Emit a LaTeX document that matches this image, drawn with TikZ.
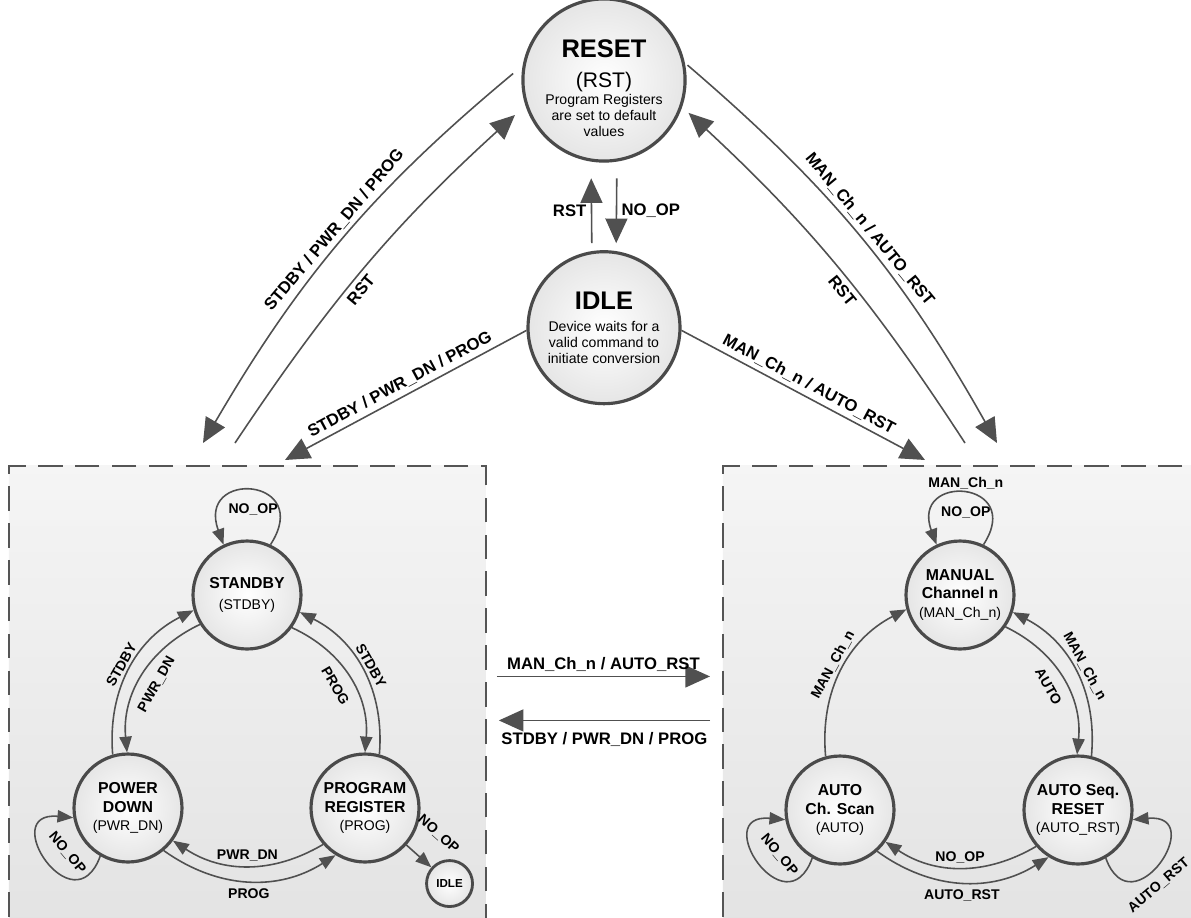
\documentclass[tikz,border=0pt]{standalone}
\usepackage{fontspec}
\setmainfont{Liberation Sans}
\usetikzlibrary{arrows.meta,positioning,calc,shadows}

\definecolor{rimgray}{HTML}{4A4A4A}
\definecolor{edgegray}{HTML}{505050}
\definecolor{boxgray}{HTML}{555555}

\newcommand{\subtxt}[1]{{\normalfont\fontsize{8}{9}\selectfont #1}}
\newcommand{\rsttxt}[1]{{\normalfont\fontsize{12}{13}\selectfont #1}}

\tikzset{
  state/.style={circle, draw=rimgray, line width=1.8pt, minimum size=2.16cm, inner sep=0pt,
    align=center, inner color=white, outer color=black!10,
    drop shadow={shadow xshift=0.7pt, shadow yshift=-0.7pt, opacity=0.25},
    font=\fontsize{9}{10.5}\selectfont\bfseries},
  main state/.style={state, minimum size=3.04cm, font=\fontsize{14.5}{9}\selectfont\bfseries},
  tiny state/.style={state, minimum size=0.92cm, line width=1.6pt, font=\fontsize{6.6}{8}\selectfont\bfseries},
  group/.style={draw=boxgray, line width=1.1pt, dash pattern=on 14pt off 7pt,
    top color=black!4, bottom color=black!11, anchor=north west,
    minimum width=9.54cm, minimum height=9.3cm},
  arrow/.style={-{Triangle[length=9pt, width=7pt]}, draw=edgegray, line width=0.9pt},
  big arrow/.style={-{Triangle[length=14pt, width=12.5pt]}, draw=edgegray, line width=0.9pt},
  lbl/.style={font=\fontsize{8}{9}\selectfont\bfseries, inner sep=2pt},
  big lbl/.style={font=\fontsize{9.5}{11}\selectfont\bfseries, inner sep=2.5pt},
}

\begin{document}
\begin{tikzpicture}[x=0.02cm, y=-0.02cm]
    \fill[white] (0,0) rectangle (1191,917);
    \useasboundingbox (0,0) rectangle (1191,917);
    \clip (0,0) rectangle (1191,917);

    \node[group] (lgrp) at (8,465) {};
    \node[group] (rgrp) at (722,465) {};

    \node[main state] (reset) at (604,80) {\mbox{}\\[8pt]RESET\\[8.5pt]\rsttxt{(RST)}\\[0.5pt]\subtxt{Program Registers}\\\subtxt{are set to default}\\\subtxt{values}};
    \node[main state, below=1.75cm of reset] (idle) {IDLE\\[3.5pt]\subtxt{Device waits for a}\\\subtxt{valid command to}\\\subtxt{initiate conversion}};

    \node[state] (stdby) at (247,595) {STANDBY\\[1.5pt]\subtxt{(STDBY)}};
    \node[state] (pwrdn) at (128,808) {POWER\\DOWN\\\subtxt{(PWR\_DN)}};
    \node[state] (prog) at (365,808) {PROGRAM\\REGISTER\\\subtxt{(PROG)}};
    \node[tiny state, below right=0.38cm and 0.56cm of prog] (idlesm) {IDLE};

    \node[state] (man) at (960,595) {MANUAL\\Channel n\\\subtxt{(MAN\_Ch\_n)}};
    \node[state] (autoscan) at (840,810) {AUTO\\Ch. Scan\\\subtxt{(AUTO)}};
    \node[state] (arst) at (1078,810) {AUTO Seq.\\RESET\\\subtxt{(AUTO\_RST)}};

    \coordinate (lA) at ($(lgrp.north west)+(195,-22)$);
    \coordinate (lB) at ($(lgrp.north west)+(227,-22)$);
    \coordinate (lC) at ($(lgrp.north west)+(277,-5)$);
    \coordinate (rD) at ($(rgrp.north west)+(275,-22)$);
    \coordinate (rE) at ($(rgrp.north west)+(243,-22)$);
    \coordinate (rF) at ($(rgrp.north west)+(203,-5)$);

    \draw[big arrow, shorten <=4.5pt, shorten >=9.5pt] (idle.99) -- node[big lbl, pos=0.45, left] {RST} (reset.261);
    \draw[big arrow, shorten <=9.5pt, shorten >=4.5pt] (reset.279) -- node[big lbl, pos=0.55, right] {NO\_OP} (idle.81);

    \draw[big arrow, shorten <=7pt] (reset.170) to[bend right=10] node[big lbl, midway, sloped, above] {STDBY / PWR\_DN / PROG} (lA);
    \draw[big arrow, shorten >=8pt] (lB) to[bend left=7] node[big lbl, pos=0.44, sloped, below] {RST} (reset.198);
    \draw[big arrow] (idle.182) -- node[big lbl, midway, sloped, above] {STDBY / PWR\_DN / PROG} (lC);
    \draw[big arrow, shorten <=2pt] (reset.12) to[bend left=10] node[big lbl, midway, sloped, above] {MAN\_Ch\_n / AUTO\_RST} (rD);
    \draw[big arrow, shorten >=5pt] (rE) to[bend right=7] node[big lbl, pos=0.44, sloped, below] {RST} (reset.341);
    \draw[big arrow] (idle.358) -- node[big lbl, midway, sloped, above] {MAN\_Ch\_n / AUTO\_RST} (rF);

    \draw[big arrow] ($(lgrp.east)+(10,-22)$) -- node[big lbl, midway, above] {MAN\_Ch\_n / AUTO\_RST} ($(rgrp.west)+(-12,-22)$);
    \draw[big arrow] ($(rgrp.west)+(-12,22)$) -- node[big lbl, midway, below=4pt] {STDBY / PWR\_DN / PROG} ($(lgrp.east)+(12,22)$);

    \draw[arrow] (stdby.65) to[out=57, in=110, looseness=4.4] node[lbl, midway, below=5pt] {NO\_OP} (stdby.115);
    \draw[arrow] (stdby.212) to[bend right=35] node[lbl, midway, sloped, below=4pt] {PWR\_DN} (pwrdn.91);
    \draw[arrow] (pwrdn.106) to[bend left=34] node[lbl, midway, sloped, above] {STDBY} (stdby.196);
    \draw[arrow] (stdby.324) to[bend left=35] node[lbl, midway, sloped, below=4pt] {PROG} (prog.90);
    \draw[arrow] (prog.75) to[bend right=34] node[lbl, midway, sloped, above] {STDBY} (stdby.342);
    \draw[arrow] (prog.221) to[bend left=32] node[lbl, midway, above] {PWR\_DN} (pwrdn.324);
    \draw[arrow] (pwrdn.310) to[bend right=34] node[lbl, midway, below=2pt] {PROG} (prog.238);
    \draw[arrow] (pwrdn.240) to[out=250, in=175, looseness=4.2] node[lbl, pos=0.46, sloped, above=6pt] {NO\_OP} (pwrdn.190);
    \draw[arrow] (prog) -- node[lbl, midway, sloped, above=11pt] {NO\_OP} (idlesm);

    \draw[arrow] (man.65) to[out=57, in=110, looseness=4.2] node[lbl, midway, below=5pt] {NO\_OP} node[lbl, midway, above] {MAN\_Ch\_n} (man.115);
    \draw[arrow] (autoscan.105) to[bend left=34] node[lbl, midway, sloped, above] {MAN\_Ch\_n} (man.195);
    \draw[arrow] (man.325) to[bend left=35] node[lbl, midway, sloped, below=4pt] {AUTO} (arst.91);
    \draw[arrow] (arst.76) to[bend right=34] node[lbl, midway, sloped, above] {MAN\_Ch\_n} (man.342);
    \draw[arrow] (arst.221) to[bend left=32] node[lbl, midway, above] {NO\_OP} (autoscan.325);
    \draw[arrow] (autoscan.312) to[bend right=34] node[lbl, midway, below=2pt] {AUTO\_RST} (arst.238);
    \draw[arrow] (autoscan.240) to[out=250, in=175, looseness=4.2] node[lbl, pos=0.46, sloped, above=6pt] {NO\_OP} (autoscan.190);
    \draw[arrow] (arst.300) to[out=290, in=5, looseness=4.2] node[lbl, pos=0.4, sloped, below=3pt] {AUTO\_RST} (arst.350);
\end{tikzpicture}
\end{document}
